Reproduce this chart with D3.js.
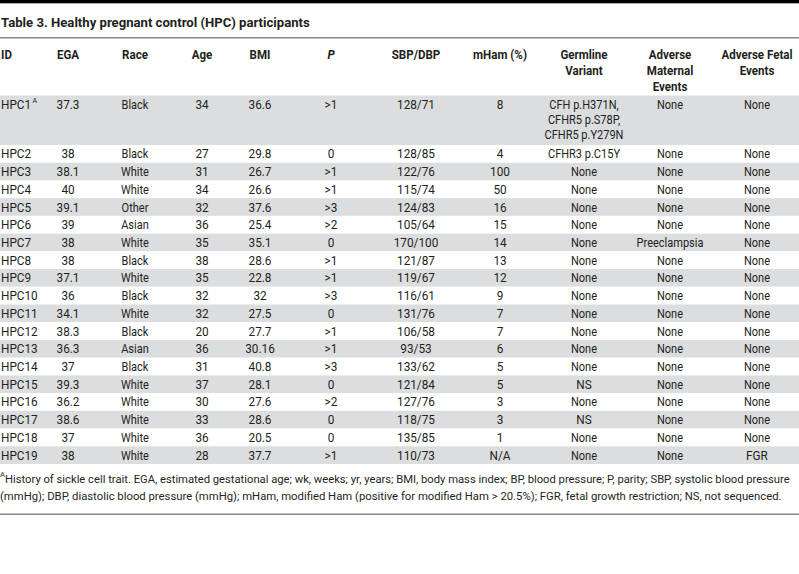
<!DOCTYPE html>
<html><head><meta charset="utf-8">
<script src="https://cdn.jsdelivr.net/npm/d3@7"></script>
<style>
html,body{margin:0;padding:0;background:#fff;}
svg{display:block;font-family:Roboto, "Noto Sans", sans-serif;}
</style></head>
<body><svg id="chart" width="799" height="574"></svg>
<script>
const titleText = "Table 3. Healthy pregnant control (HPC) participants";
const headers = [["ID"],["EGA"],["Race"],["Age"],["BMI"],["P"],["SBP/DBP"],["mHam (%)"],["Germline","Variant"],["Adverse","Maternal","Events"],["Adverse Fetal","Events"]];
const ids = ["HPC1","HPC2","HPC3","HPC4","HPC5","HPC6","HPC7","HPC8","HPC9","HPC10","HPC11","HPC12","HPC13","HPC14","HPC15","HPC16","HPC17","HPC18","HPC19"];
const ega = ["37.3","38","38.1","40","39.1","39","38","38","37.1","36","34.1","38.3","36.3","37","39.3","36.2","38.6","37","38"];
const race = ["Black","Black","White","White","Other","Asian","White","Black","White","Black","White","Black","Asian","Black","White","White","White","White","White"];
const age = ["34","27","31","34","32","36","35","38","35","32","32","20","36","31","37","30","33","36","28"];
const bmi = ["36.6","29.8","26.7","26.6","37.6","25.4","35.1","28.6","22.8","32","27.5","27.7","30.16","40.8","28.1","27.6","28.6","20.5","37.7"];
const parity = [">1","0",">1",">1",">3",">2","0",">1",">1",">3","0",">1",">1",">3","0",">2","0","0",">1"];
const sbpdbp = ["128/71","128/85","122/76","115/74","124/83","105/64","170/100","121/87","119/67","116/61","131/76","106/58","93/53","133/62","121/84","127/76","118/75","135/85","110/73"];
const mham = ["8","4","100","50","16","15","14","13","12","9","7","7","6","5","5","3","3","1","N/A"];
const germline = [["CFH p.H371N,","CFHR5 p.S78P,","CFHR5 p.Y279N"],"CFHR3 p.C15Y","None","None","None","None","None","None","None","None","None","None","None","None","NS","None","NS","None","None"];
const maternal = ["None","None","None","None","None","None","Preeclampsia","None","None","None","None","None","None","None","None","None","None","None","None"];
const fetal = ["None","None","None","None","None","None","None","None","None","None","None","None","None","None","None","None","None","None","FGR"];
const footnote1 = "History of sickle cell trait. EGA, estimated gestational age; wk, weeks; yr, years; BMI, body mass index; BP, blood pressure; P, parity; SBP, systolic blood pressure";
const footnote2 = "(mmHg); DBP, diastolic blood pressure (mmHg); mHam, modified Ham (positive for modified Ham > 20.5%); FGR, fetal growth restriction; NS, not sequenced.";

const columns = [ids, ega, race, age, bmi, parity, sbpdbp, mham, germline, maternal, fetal];
const colCenters = [1, 68, 135, 202, 260, 331, 416, 500, 584, 670, 757];
const textColor = "#231f20";
const svg = d3.select("#chart");

const xCol = d3.scaleOrdinal().domain(d3.range(columns.length)).range(colCenters);

const firstTop = 95.5, firstBottom = 145, lastBottom = 464;
const yRow = d3.scaleLinear().domain([1, ids.length]).range([firstBottom, lastBottom]);
function rowTop(i){ return i === 0 ? firstTop : yRow(i); }
function rowBottom(i){ return i === 0 ? firstBottom : yRow(i+1); }

function squeeze(sel, f){
  const w = sel.node().getComputedTextLength();
  sel.attr("textLength", w * f).attr("lengthAdjust", "spacingAndGlyphs");
  return w * f;
}
function fitSize(sel, w){
  const cur = sel.node().getComputedTextLength();
  const fs = parseFloat(sel.attr("font-size"));
  sel.attr("font-size", fs * w / cur);
}

svg.append("rect").attr("x",0).attr("y",0).attr("width",799).attr("height",3.3).attr("fill","#000");
const title = svg.append("text").attr("x",1).attr("y",26.5).attr("font-size",14).attr("font-weight",700)
  .attr("fill",textColor).text(titleText);
fitSize(title, 309);
svg.append("rect").attr("x",0).attr("y",37).attr("width",799).attr("height",1.5).attr("fill","#8a8a8a");

svg.selectAll("rect.rowbg").data(ids).enter().append("rect").attr("class","rowbg")
  .attr("x",0).attr("width",799)
  .attr("y",(d,i)=>rowTop(i)).attr("height",(d,i)=>rowBottom(i)-rowTop(i))
  .attr("fill",(d,i)=> i%2===0 ? "#dcdddf" : "#ffffff");

const bodyFs = 12.8, headFs = 12.3;
headers.forEach((lines, c) => {
  lines.forEach((l, k) => {
    const t = svg.append("text")
      .attr("x", xCol(c)).attr("y", 55 + k*15.8).attr("dy","0.35em")
      .attr("text-anchor", c === 0 ? "start" : "middle")
      .attr("font-size", headFs).attr("font-weight", 700).attr("fill", textColor)
      .attr("font-style", c === 5 ? "italic" : null).text(l);
    squeeze(t, 0.94);
  });
});

const lineH = 14.6;
columns.forEach((col, c) => {
  col.forEach((v, i) => {
    const lines = Array.isArray(v) ? v : [v];
    const firstY = i === 0 ? rowTop(i) + 9.5 : (rowTop(i)+rowBottom(i))/2;
    lines.forEach((l, k) => {
      const t = svg.append("text")
        .attr("x", xCol(c)).attr("y", firstY + k*lineH).attr("dy","0.35em")
        .attr("text-anchor", c === 0 ? "start" : "middle")
        .attr("font-size", bodyFs).attr("fill", textColor).text(l);
      const w = squeeze(t, /[a-z]/.test(l) ? 0.86 : 0.92);
      if (c === 0 && i === 0) {
        svg.append("text").attr("x", xCol(c) + w + 1.5).attr("y", firstY - 2.5)
          .attr("font-size", 7).attr("fill", textColor).text("A");
      }
    });
  });
});

const fnA = svg.append("text").attr("x",0).attr("y",477).attr("font-size",7.5).attr("fill",textColor).text("A");
const fn1 = svg.append("text").attr("x",5).attr("y",479).attr("dy","0.35em").attr("font-size",12.5).attr("fill",textColor).text(footnote1);
const fn2 = svg.append("text").attr("x",0).attr("y",496).attr("dy","0.35em").attr("font-size",12.5).attr("fill",textColor).text(footnote2);
fitSize(fn1, 786);
fitSize(fn2, 783);

svg.append("rect").attr("x",0).attr("y",513.5).attr("width",799).attr("height",1.5).attr("fill","#8a8a8a");
</script>
</body></html>
